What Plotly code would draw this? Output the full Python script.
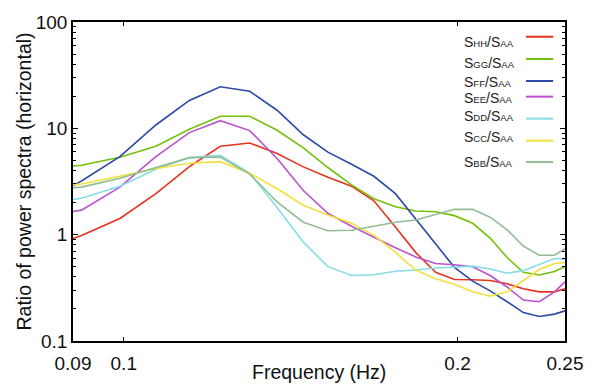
import plotly.graph_objects as go

# Frequencies (Hz) at which the ratios are given
freq = [0.09, 0.0916, 0.0992, 0.1069, 0.1146, 0.1222, 0.1299, 0.1375, 0.1452,
        0.1528, 0.1605, 0.1681, 0.1758, 0.1834, 0.1911, 0.1987, 0.2064, 0.2140,
        0.2217, 0.2293, 0.2370, 0.2446, 0.25]

s_hh = [0.92, 0.98, 1.42, 2.43, 4.37, 6.78, 7.28, 5.8, 4.34, 3.46, 2.86, 2.08, 1.18,
        0.678, 0.443, 0.379, 0.377, 0.371, 0.345, 0.31, 0.29, 0.29, 0.31]
s_gg = [4.43, 4.5, 5.35, 6.78, 9.8, 13.0, 13.0, 9.6, 6.55, 4.28, 2.94, 2.18, 1.83,
        1.67, 1.64, 1.51, 1.28, 0.93, 0.61, 0.443, 0.418, 0.45, 0.5]
s_ff = [2.88, 3.2, 5.42, 10.75, 18.3, 24.6, 22.3, 14.8, 8.7, 5.97, 4.59, 3.54, 2.43,
        1.40, 0.81, 0.493, 0.366, 0.296, 0.234, 0.185, 0.17, 0.179, 0.192]
s_ee = [1.65, 1.70, 2.8, 5.41, 9.12, 11.8, 9.52, 5.2, 2.6, 1.59, 1.2, 0.946, 0.754,
        0.618, 0.536, 0.522, 0.5, 0.413, 0.322, 0.243, 0.234, 0.29, 0.36]
s_dd = [2.14, 2.2, 2.86, 4.13, 5.3, 5.56, 3.8, 1.8, 0.85, 0.5, 0.413, 0.42, 0.453,
        0.465, 0.486, 0.5, 0.506, 0.475, 0.434, 0.459, 0.522, 0.597, 0.59]
s_cc = [2.94, 3.0, 3.54, 4.19, 4.69, 4.86, 3.79, 2.7, 1.89, 1.53, 1.28, 0.99, 0.68,
        0.465, 0.384, 0.341, 0.29, 0.264, 0.29, 0.37, 0.47, 0.536, 0.548]
s_bb = [2.76, 2.8, 3.39, 4.28, 5.3, 5.36, 3.71, 2.03, 1.31, 1.09, 1.1, 1.2, 1.31,
        1.375, 1.55, 1.73, 1.73, 1.46, 1.11, 0.78, 0.64, 0.64, 0.738]

pairs = ["HH", "GG", "FF", "EE", "DD", "CC", "BB"]
series = [s_hh, s_gg, s_ff, s_ee, s_dd, s_cc, s_bb]
colors = ["#e8321e", "#74c10a", "#2c4aa6", "#ba52cc", "#86dde6", "#f4e03c", "#94bc94"]

x_tickvals = [0.09, 0.1, 0.2, 0.25]
x_ticktext = ["0.09", "0.1", "0.2", "0.25"]
y_tickvals = [0.1, 1, 10, 100]
y_ticktext = ["0.1", "1", "10", "100"]
y_minor = [m * d for d in (0.1, 1, 10) for m in range(2, 10)]

# legend layout (paper coords)
leg_text_y = [0.9385, 0.870, 0.812, 0.761, 0.705, 0.638, 0.561]
leg_line_y = [0.9538, 0.884, 0.815, 0.766, 0.697, 0.628, 0.561]

FONT = "Liberation Sans, Arial, Helvetica, sans-serif"

fig = go.Figure()
for name, ys, col in zip(pairs, series, colors):
    fig.add_trace(go.Scatter(x=freq, y=ys, mode="lines",
                             line=dict(color=col, width=1.6),
                             name=f"S{name}/SAA", showlegend=False))

annotations = []
shapes = []
for name, col, ty, ly in zip(pairs, colors, leg_text_y, leg_line_y):
    annotations.append(dict(
        x=0.79, y=ty, xref="paper", yref="paper", xanchor="left", yanchor="middle",
        showarrow=False,
        text=f"S<span style='font-size:9.5px'>{name}</span>/S<span style='font-size:9.5px'>AA</span>",
        font=dict(family=FONT, size=14, color="#222")))
    shapes.append(dict(type="line", xref="paper", yref="paper",
                       x0=0.9207, x1=0.976, y0=ly, y1=ly,
                       line=dict(color=col, width=2)))

annotations.append(dict(x=0.5, y=0, xref="paper", yref="paper", yanchor="middle",
                        yshift=-31, showarrow=False, text="Frequency (Hz)",
                        font=dict(family=FONT, size=19.5, color="#111")))
annotations.append(dict(x=0, y=0.5, xref="paper", yref="paper", xanchor="center",
                        xshift=-50, showarrow=False, textangle=-90,
                        text="Ratio of power spectra (horizontal)",
                        font=dict(family=FONT, size=19.5, color="#111")))

fig.update_layout(
    width=597, height=386,
    margin=dict(l=73, r=32, t=20, b=41),
    paper_bgcolor="white", plot_bgcolor="white",
    font=dict(family=FONT, size=19, color="#111"),
    annotations=annotations, shapes=shapes,
    showlegend=False,
)
fig.update_xaxes(type="log", range=[-1.0457575, -0.6020600],
                 tickvals=x_tickvals, ticktext=x_ticktext,
                 ticks="inside", ticklen=4, tickcolor="black",
                 ticklabelstandoff=4,
                 showline=True, linecolor="black", linewidth=1.5, mirror="ticks",
                 showgrid=False, zeroline=False,
                 tickfont=dict(family=FONT, size=19, color="#111"))
fig.update_yaxes(type="log", range=[-1, 2],
                 tickvals=y_tickvals, ticktext=y_ticktext,
                 ticks="inside", ticklen=5, tickcolor="black",
                 minor=dict(tickvals=y_minor, ticks="inside", ticklen=3,
                            tickcolor="black", showgrid=False),
                 showline=True, linecolor="black", linewidth=1.5, mirror="ticks",
                 showgrid=False, zeroline=False,
                 tickfont=dict(family=FONT, size=19, color="#111"))

fig.write_html("out.html")
